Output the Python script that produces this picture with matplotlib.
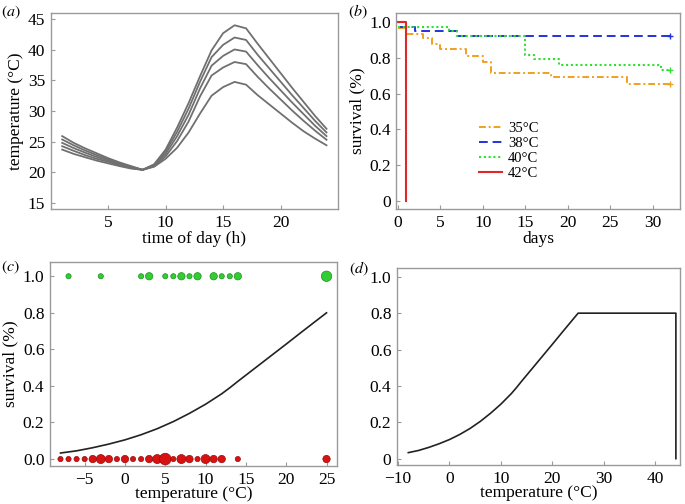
import numpy as np
import matplotlib
matplotlib.use('Agg')
import matplotlib.pyplot as plt

plt.rcParams['font.family'] = ['Liberation Serif', 'DejaVu Serif']
plt.rcParams['mathtext.fontset'] = 'stix'

# (a) daily temperature profiles, one per scenario
hours = np.arange(1, 25)
temp_1 = [25.9, 24.8, 23.9, 23.1, 22.3, 21.6, 21.0, 20.4, 21.3, 23.7, 27.3, 31.3,
          35.7, 39.9, 42.7, 44.0, 43.5, 41.0, 38.6, 36.2, 33.8, 31.5, 29.2, 27.1]
temp_2 = [25.35, 24.4, 23.55, 22.8, 22.1, 21.45, 20.9, 20.4, 21.2, 23.4, 26.6, 30.4,
          34.8, 38.8, 40.8, 42.0, 41.6, 39.2, 37.0, 34.8, 32.6, 30.5, 28.4, 26.5]
temp_3 = [24.8, 23.95, 23.2, 22.5, 21.9, 21.3, 20.8, 20.4, 21.1, 23.0, 25.9, 29.4,
          33.7, 37.4, 39.0, 40.05, 39.7, 37.5, 35.4, 33.4, 31.4, 29.5, 27.6, 25.9]
temp_4 = [24.25, 23.5, 22.8, 22.2, 21.7, 21.15, 20.7, 20.4, 21.0, 22.6, 25.1, 28.3,
          32.4, 35.8, 37.1, 38.0, 37.65, 35.6, 33.7, 31.9, 30.1, 28.4, 26.8, 25.3]
temp_5 = [23.7, 23.0, 22.45, 21.9, 21.45, 21.0, 20.6, 20.4, 20.9, 22.2, 24.0, 26.5,
          29.6, 32.5, 33.9, 34.75, 34.3, 32.6, 31.1, 29.6, 28.1, 26.7, 25.5, 24.4]

# (b) Kaplan-Meier survival curves
days_35 = [0, 1, 3, 4, 5, 8, 10, 11, 18, 27, 32]
surv_35 = [0.967, 0.936, 0.912, 0.88, 0.848, 0.811, 0.78, 0.715, 0.692, 0.655, 0.655]
days_38 = [0, 2, 7, 32]
surv_38 = [0.972, 0.949, 0.921, 0.921]
days_40 = [0, 6, 7, 15, 16, 19, 31, 32]
surv_40 = [0.972, 0.949, 0.921, 0.815, 0.793, 0.762, 0.734, 0.734]
days_42 = [0, 1]
surv_42 = [1.0, 0.0]

# (c) observed survival vs temperature, marker size = number of cases
alive_t = [-7, -3, 2, 3, 5, 6, 7, 8, 9, 11, 12, 13, 14, 25]
alive_n = [1, 1, 1, 2, 1, 1, 2, 1, 2, 2, 1, 1, 2, 4]
dead_t = [-8, -7, -6, -5, -4, -3, -2, -1, 0, 1, 2, 3, 4, 5, 6, 7, 8, 9, 10, 11, 12, 14, 25]
dead_n = [1, 1, 1, 1, 2, 3, 2, 1, 2, 1, 1, 2, 3, 5, 1, 3, 2, 1, 3, 2, 2, 1, 2]

fit_t = [-8, -6, -4, -2, 0, 2, 4, 6, 8, 10, 12, 13, 14, 16, 18, 20, 22, 24, 25]
fit_p = [0.033, 0.045, 0.062, 0.082, 0.105, 0.133, 0.166, 0.205, 0.25, 0.30, 0.357,
         0.39, 0.425, 0.493, 0.561, 0.629, 0.698, 0.766, 0.80]

# (d) survival function extended to the lethal limit
ext_t = [25, 44, 44]
ext_p = [0.80, 0.80, 0.0]

W, H = 685, 504
fig = plt.figure(figsize=(W / 100, H / 100), dpi=100)

fs = 12.5


def make_ax(l, r, t, b):
    ax = fig.add_axes([l / W, 1 - b / H, (r - l) / W, (b - t) / H])
    for s in ax.spines.values():
        s.set_color('#9a9a9a')
        s.set_linewidth(1.0)
    ax.tick_params(direction='in', length=3, width=0.8, color='#9a9a9a',
                   labelcolor='black', labelsize=fs, pad=4,
                   top=False, right=False)
    return ax


# panel a
ax = make_ax(50.7, 338, 13, 209)
for tt in [temp_1, temp_2, temp_3, temp_4, temp_5]:
    ax.plot(hours, tt, color='#707070', lw=1.3)
ax.set_xlim(0, 25)
ax.set_ylim(14, 46)
ax.set_xticks([5, 10, 15, 20])
ax.set_yticks([15, 20, 25, 30, 35, 40, 45])
ax.set_xlabel('time of day (h)', fontsize=fs, labelpad=0)
ax.set_ylabel('temperature (°C)', fontsize=fs, labelpad=3)

# panel b
ax = make_ax(396.3, 680.3, 12.7, 209)
ax.step(days_35, surv_35, where='post', color='#f0a020', lw=1.4,
        ls=(0, (3.5, 1.5, 1, 1.5)), label='35°C')
ax.step(days_38, surv_38, where='post', color='#2233dd', lw=1.4,
        ls=(0, (4.5, 2.5)), label='38°C')
ax.step(days_40, surv_40, where='post', color='#2ee02e', lw=1.5,
        ls=(0, (1, 1.3)), label='40°C')
ax.step(days_42, surv_42, where='post', color='#e02828', lw=1.5, label='42°C')
ax.plot([days_35[-1]], [surv_35[-1]], '+', color='#f0a020', ms=5, mew=1)
ax.plot([days_38[-1]], [surv_38[-1]], '+', color='#2233dd', ms=5, mew=1)
ax.plot([days_40[-1]], [surv_40[-1]], '+', color='#2ee02e', ms=5, mew=1)
ax.set_xlim(-0.2, 33.25)
ax.set_ylim(-0.047, 1.054)
ax.set_xticks([0, 5, 10, 15, 20, 25, 30])
ax.set_yticks([0, 0.2, 0.4, 0.6, 0.8, 1.0])
ax.set_yticklabels(['0', '0.2', '0.4', '0.6', '0.8', '1.0'])
ax.set_xlabel('days', fontsize=fs, labelpad=0)
ax.set_ylabel('survival (%)', fontsize=fs, labelpad=3)
ax.legend(loc='upper left', bbox_to_anchor=(0.29, 0.445), frameon=False,
          fontsize=10.5, handlelength=1.6, handletextpad=0.4, labelspacing=0.12,
          borderpad=0, borderaxespad=0)

# panel c
ax = make_ax(50, 337, 262, 466)
ax.plot(fit_t, fit_p, color='#222222', lw=1.2, zorder=2)
ax.scatter(alive_t, [1.0] * len(alive_t), s=[14 * n for n in alive_n],
           color='#33cc33', edgecolor='#1d8f1d', lw=0.5, zorder=3)
ax.scatter(dead_t, [0.0] * len(dead_t), s=[14 * n for n in dead_n],
           color='#d81212', edgecolor='#9a0a0a', lw=0.5, zorder=3)
ax.set_xlim(-9.3, 26.3)
ax.set_ylim(-0.038, 1.078)
ax.set_xticks([-5, 0, 5, 10, 15, 20, 25])
ax.set_yticks([0, 0.2, 0.4, 0.6, 0.8, 1.0])
ax.set_yticklabels(['0.0', '0.2', '0.4', '0.6', '0.8', '1.0'])
ax.set_xlabel('temperature (°C)', fontsize=fs, labelpad=-1)
ax.set_ylabel('survival (%)', fontsize=fs, labelpad=3)

# panel d
ax = make_ax(397, 680, 267.7, 465)
ax.plot(fit_t + ext_t, fit_p + ext_p, color='#222222', lw=1.2)
ax.set_xlim(-10.2, 44.8)
ax.set_ylim(-0.035, 1.05)
ax.set_xticks([-10, 0, 10, 20, 30, 40])
ax.set_yticks([0, 0.2, 0.4, 0.6, 0.8, 1.0])
ax.set_yticklabels(['0', '0.2', '0.4', '0.6', '0.8', '1.0'])
ax.set_xlabel('temperature (°C)', fontsize=fs, labelpad=-1)

# panel letters
for lab, x, y in [('a', 1, 12), ('b', 348, 12), ('c', 1, 267), ('d', 349, 269)]:
    fig.text(x / W, 1 - y / H, r'$(\mathit{' + lab + '})$', fontsize=11.5,
             ha='left', va='center')

fig.savefig('out.png', dpi=100)
